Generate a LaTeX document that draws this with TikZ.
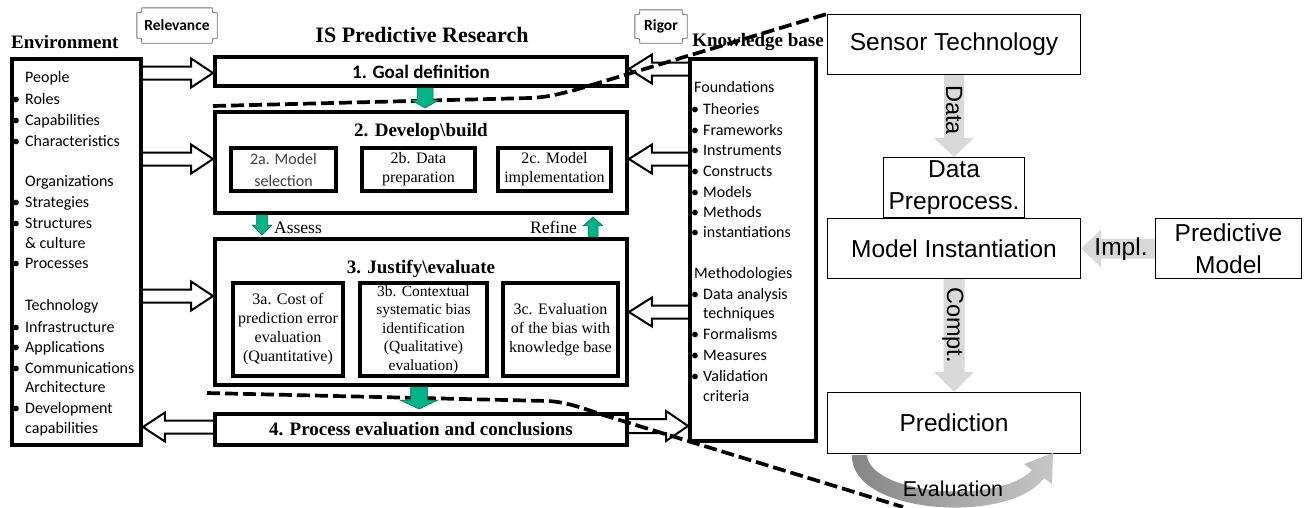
\documentclass[tikz,border=0pt]{standalone}
\usepackage{fontspec}
\setmainfont{Liberation Serif}
\newfontfamily\calfont{Carlito}
\newfontfamily\arfont{Liberation Sans}
\usetikzlibrary{calc}
\definecolor{gcol}{RGB}{0,180,135}
\definecolor{arrgray}{RGB}{217,217,217}
% vertical block arrow: style, tail, tip, half shaft, half head, head length, dir (+1 down, -1 up)
\newcommand\blkV[7]{\path[#1] ($(#2)+(-#4,0)$) -- ($(#3)+(-#4,{-(#7)*(#6)})$) -- ($(#3)+(-#5,{-(#7)*(#6)})$) -- (#3) -- ($(#3)+(#5,{-(#7)*(#6)})$) -- ($(#3)+(#4,{-(#7)*(#6)})$) -- ($(#2)+(#4,0)$);}
% horizontal block arrow: style, tail, tip, half shaft, half head, head length, dir (+1 right, -1 left)
\newcommand\blkH[7]{\path[#1] ($(#2)+(0,-#4)$) -- ($(#3)+({-(#7)*(#6)},-#4)$) -- ($(#3)+({-(#7)*(#6)},-#5)$) -- (#3) -- ($(#3)+({-(#7)*(#6)},#5)$) -- ($(#3)+({-(#7)*(#6)},#4)$) -- ($(#2)+(0,#4)$);}
% plaque outline (concave corners) around a node
\newcommand\plaque[1]{\draw[plaq] ($(#1.north west)+(5,0)$) -- ($(#1.north east)+(-5,0)$) .. controls ($(#1.north east)+(-5,5)$) .. ($(#1.north east)+(0,5)$) -- ($(#1.south east)+(0,-5)$) .. controls ($(#1.south east)+(-5,-5)$) .. ($(#1.south east)+(-5,0)$) -- ($(#1.south west)+(5,0)$) .. controls ($(#1.south west)+(5,-5)$) .. ($(#1.south west)+(0,-5)$) -- ($(#1.north west)+(0,5)$) .. controls ($(#1.north west)+(5,5)$) .. cycle;}
\begin{document}
\begin{tikzpicture}[x=1pt,y=-1pt,
  thickbox/.style={draw,line width=3.9pt,inner sep=0pt,align=center},
  subbox/.style={draw,line width=3.5pt,inner sep=0pt,align=center,font=\fontsize{16}{19}\selectfont},
  thinbox/.style={draw,line width=1.1pt,inner sep=0pt,align=center,font=\arfont\fontsize{24.5}{32}\selectfont},
  boldtitle/.style={font=\bfseries\fontsize{19}{23}\selectfont,inner sep=0pt},
  listtext/.style={font=\calfont\fontsize{16}{20}\selectfont,inner sep=0pt,anchor=base west},
  hollow/.style={draw,line width=2pt,line join=miter},
  garr/.style={fill=gcol,draw=gcol!60!black,line width=0.5pt},
  grarr/.style={fill=arrgray},
  dashedline/.style={line width=3.7pt,dash pattern=on 13pt off 5pt},
  tag/.style={inner sep=0pt,font=\calfont\bfseries\fontsize{15.5}{18}\selectfont},
  plaq/.style={draw=black!55,line width=0.9pt}
]
\fill[white] (0,0) rectangle (1306,507);
\useasboundingbox (0,0) rectangle (1306,507);

% titles
\node[boldtitle,anchor=base west] (envt) at (11,48) {Environment};
\node[font=\bfseries\fontsize{22}{26}\selectfont,inner sep=0pt,anchor=base] (ist) at (422,42) {IS Predictive Research};
\node[boldtitle,anchor=base] (kbt) at (758,46) {Knowledge base};
\node[tag,minimum width=80pt,minimum height=35pt] (rel) at (177,25.5) {Relevance};
\node[tag,minimum width=52pt,minimum height=33pt] (rig) at (661,26.5) {Rigor};
\plaque{rel}
\plaque{rig}

% environment
\node[thickbox,minimum width=129pt,minimum height=386pt] (env) at (76.5,252) {};
\foreach \t/\y [count=\i] in {People/77, Organizations/181, Technology/305}
  \node[listtext] (eh\i) at (25,\y+5.5) {\t};
\foreach \t/\y [count=\i] in {Roles/99, Capabilities/120, Characteristics/141, Strategies/202, Structures/223, Processes/263, Infrastructure/327, Applications/347, Communications/368, Development/408}
  \node[listtext] (eb\i) at (25,\y+5.5) {\llap{\textbullet\hspace{5pt}}\t};
\foreach \t/\y [count=\i] in {\&~culture/243, Architecture/387, capabilities/428}
  \node[listtext] (ec\i) at (25,\y+5.5) {\t};

% knowledge base
\node[thickbox,minimum width=126pt,minimum height=382pt] (kb) at (753,250) {};
\foreach \t/\y [count=\i] in {Foundations/87, Methodologies/273}
  \node[listtext] (kh\i) at (694,\y+5.5) {\t};
\foreach \t/\y [count=\i] in {Theories/109, Frameworks/130, Instruments/150, Constructs/171, Models/192, Methods/212, instantiations/232, Data analysis/294, Formalisms/334, Measures/355, Validation/376}
  \node[listtext] (kb\i) at (703,\y+5.5) {\llap{\textbullet\hspace{4pt}}\t};
\foreach \t/\y [count=\i] in {techniques/313, criteria/396}
  \node[listtext] (kc\i) at (703,\y+5.5) {\t};

% central process
\node[thickbox,minimum width=412pt,minimum height=29pt,font=\calfont\bfseries\fontsize{19}{23}\selectfont] (b1) at (421,71.5) {1. Goal definition};
\node[thickbox,minimum width=412pt,minimum height=101pt] (b2) at (421,162.5) {};
\node[boldtitle,anchor=base] (t2) at (421,136) {2. Develop\textbackslash build};
\node[subbox,minimum width=105pt,minimum height=43pt,font=\calfont\fontsize{16}{22}\selectfont,text=black!75] (s2a) at (283.5,169.5) {2a. Model\\selection};
\node[subbox,minimum width=113pt,minimum height=43pt] (s2b) at (418.5,169.5) {2b. Data\\preparation};
\node[subbox,minimum width=113pt,minimum height=43pt] (s2c) at (554.5,169.5) {2c. Model\\implementation};
\node[thickbox,minimum width=412pt,minimum height=146pt] (b3) at (421,312) {};
\node[boldtitle,anchor=base] (t3) at (421,273) {3. Justify\textbackslash evaluate};
\node[subbox,minimum width=110pt,minimum height=93pt] (s3a) at (288,329.5) {3a. Cost of\\prediction error\\evaluation\\(Quantitative)};
\node[subbox,minimum width=127pt,minimum height=93pt,font=\fontsize{15.5}{18.6}\selectfont] (s3b) at (423.5,329.5) {3b. Contextual\\systematic bias\\identification\\(Qualitative)\\evaluation)};
\node[subbox,minimum width=115pt,minimum height=93pt] (s3c) at (560.5,329.5) {3c. Evaluation\\of the bias with\\knowledge base};
\node[thickbox,minimum width=412pt,minimum height=31pt,font=\bfseries\fontsize{19}{23}\selectfont] (b4) at (421,429.5) {4. Process evaluation and conclusions};
\node[font=\fontsize{17.5}{20}\selectfont,inner sep=0pt,anchor=base west] (assess) at (274,233) {Assess};
\node[font=\fontsize{17.5}{20}\selectfont,inner sep=0pt,anchor=base east] (refine) at (577,233) {Refine};

% hollow arrows
\foreach \v in {73,159,296,427,69,312,426} \coordinate (y\v) at (0,\v);
\coordinate (e1t) at (env.east |- y73);  \coordinate (e1h) at (b1.west |- y73);
\coordinate (e2t) at (env.east |- y159); \coordinate (e2h) at (b2.west |- y159);
\coordinate (e3t) at (env.east |- y296); \coordinate (e3h) at (b3.west |- y296);
\coordinate (e4t) at (b4.west |- y427);  \coordinate (e4h) at (env.east |- y427);
\coordinate (k1t) at (kb.west |- y69);   \coordinate (k1h) at (b1.east |- y69);
\coordinate (k2t) at (kb.west |- y159);  \coordinate (k2h) at (b2.east |- y159);
\coordinate (k3t) at (kb.west |- y312);  \coordinate (k3h) at (b3.east |- y312);
\coordinate (k4t) at (b4.east |- y426);  \coordinate (k4h) at (kb.west |- y426);
\blkH{hollow}{e1t}{e1h}{6.5}{14.5}{22}{1}
\blkH{hollow}{e2t}{e2h}{6.5}{14.5}{22}{1}
\blkH{hollow}{e3t}{e3h}{6.5}{14.5}{22}{1}
\blkH{hollow}{e4t}{e4h}{6.5}{14.5}{22}{-1}
\blkH{hollow}{k1t}{k1h}{6.5}{14.5}{23}{-1}
\blkH{hollow}{k2t}{k2h}{6.5}{14.5}{23}{-1}
\blkH{hollow}{k3t}{k3h}{6.5}{14.5}{23}{-1}
\blkH{hollow}{k4t}{k4h}{7}{15}{22}{1}

% right panel
\node[thinbox,minimum width=253pt,minimum height=60pt] (sen) at (954,44.5) {Sensor Technology};
\node[thinbox,minimum width=141pt,minimum height=60pt] (pre) at (954,187.5) {Data\\Preprocess.};
\node[thinbox,minimum width=253pt,minimum height=60pt] (mi) at (954,248.5) {Model Instantiation};
\node[thinbox,minimum width=146pt,minimum height=60pt] (pm) at (1228.5,248.5) {Predictive\\Model};
\node[thinbox,minimum width=253pt,minimum height=61pt] (pred) at (954,423) {Prediction};
\blkV{grarr}{sen.south}{pre.north}{10}{20}{19}{1}
\blkH{grarr}{pm.west}{mi.east}{10}{19}{20}{-1}
\blkV{grarr}{mi.south}{pred.north}{10.5}{20}{20}{1}
\node[font=\arfont\fontsize{23.5}{28}\selectfont,inner sep=0pt,rotate=-90] (datal) at (954,110) {Data};
\node[font=\arfont\fontsize{23.5}{28}\selectfont,inner sep=0pt,rotate=-90] (comptl) at (953,325) {Compt.};
\node[font=\arfont\fontsize{24.5}{28}\selectfont,inner sep=0pt] (impll) at (1121,249) {Impl.};
\shade[left color=black!48,right color=black!22] (867,455) .. controls (870,495) and (1000,505) .. (1032,470) -- (1024,464) -- (1053,453) -- (1052,484) -- (1044,478) .. controls (1010,525) and (850,515) .. (852,455) -- cycle;
\node[font=\arfont\fontsize{21.5}{26}\selectfont,inner sep=0pt] (evall) at (953,489) {Evaluation};

% dashed zoom lines
\coordinate (dend) at (903,507);
\draw[dashedline] (213,106) -- (530,98) .. controls (548,97) and (555,95) .. (575,90) -- (sen.north west);
\draw[dashedline] (207,393) -- (548,401) .. controls (565,402) and (580,407) .. (600,414) -- (dend);

% green arrows
\coordinate (g1a) at ($(b1.south)+(4,0)$);   \coordinate (g1b) at ($(b2.north)+(4,-2)$);
\coordinate (gaa) at ($(b2.south)+(-159,0)$); \coordinate (gab) at ($(b3.north)+(-159,-2)$);
\coordinate (gra) at ($(b3.north)+(172,0)$);  \coordinate (grb) at ($(b2.south)+(172,2)$);
\coordinate (g3a) at ($(b3.south)+(-2,0)$);  \coordinate (g3b) at ($(b4.north)+(-2,-3)$);
\blkV{garr}{g1a}{g1b}{8}{14}{8}{1}
\blkV{garr}{gaa}{gab}{5.5}{10}{10}{1}
\blkV{garr}{gra}{grb}{5}{10}{9}{-1}
\blkV{garr}{g3a}{g3b}{8.5}{19}{9}{1}
\end{tikzpicture}
\end{document}
